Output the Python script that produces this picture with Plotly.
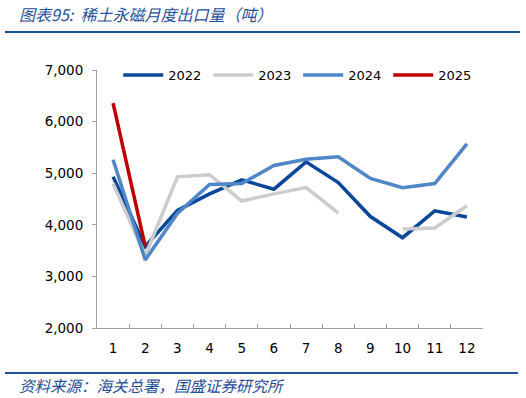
import plotly.graph_objects as go

months = ["1", "2", "3", "4", "5", "6", "7", "8", "9", "10", "11", "12"]
y2022 = [4930, 3580, 4280, 4600, 4870, 4690, 5220, 4820, 4160, 3750, 4270, 4150]
y2023 = [4800, 3400, 4930, 4970, 4460, 4600, 4720, 4230, None, 3920, 3940, 4370]
y2024 = [5260, 3320, 4220, 4780, 4800, 5150, 5270, 5320, 4900, 4720, 4800, 5570]
y2025 = [6360, 3580]
names = ["2022", "2023", "2024", "2025"]
colors = ["#08479A", "#CCCCCC", "#4F86C8", "#C00000"]
yticks = [2000, 3000, 4000, 5000, 6000, 7000]
ytick_text = ["2,000", "3,000", "4,000", "5,000", "6,000", "7,000"]

fig = go.Figure()
for name, ys, col in zip(names, [y2022, y2023, y2024, y2025], colors):
    fig.add_trace(go.Scatter(
        x=months[:len(ys)], y=ys, name=name, mode="lines",
        line=dict(color=col, width=3.5), connectgaps=False,
    ))

tickfont = dict(family="DejaVu Sans", size=13.5, color="#000000")
fig.update_layout(
    width=526, height=398,
    margin=dict(l=97, r=43, t=70, b=70),
    paper_bgcolor="white", plot_bgcolor="white",
    showlegend=True,
    legend=dict(orientation="h", x=0.055, y=0.98,
                xanchor="left", yanchor="middle",
                font=dict(family="DejaVu Sans", size=13, color="#000000"),
                itemwidth=40, entrywidth=35, bgcolor="rgba(0,0,0,0)"),
    xaxis=dict(type="category", categoryorder="array", categoryarray=months,
               range=[-0.5, 11.5],
               showline=True, linecolor="#A0A0A0", linewidth=1,
               ticks="inside", ticklen=4, tickcolor="#A0A0A0", tickson="boundaries",
               showgrid=False, zeroline=False, tickfont=tickfont,
               ticklabelstandoff=8),
    yaxis=dict(range=[2000, 7000], tickvals=yticks, ticktext=ytick_text,
               showline=True, linecolor="#A0A0A0", linewidth=1,
               ticks="outside", ticklen=4, tickcolor="#A0A0A0",
               showgrid=False, zeroline=False, tickfont=tickfont,
               ticklabelstandoff=6),
)

title_color = "#1F4E9A"
fig.add_annotation(text="<i>图表95:  稀土永磁月度出口量（吨）</i>", xref="paper", yref="paper",
                   x=-97/386 + 17/386, y=1 + (70-14)/258, xanchor="left", yanchor="middle",
                   showarrow=False,
                   font=dict(family="Noto Sans CJK SC", size=16, color=title_color))
fig.add_annotation(text="<i>资料来源：海关总署，国盛证券研究所</i>", xref="paper", yref="paper",
                   x=-97/386 + 17/386, y=-(385-328)/258, xanchor="left", yanchor="middle",
                   showarrow=False,
                   font=dict(family="Noto Sans CJK SC", size=15.5, color=title_color))
fig.add_shape(type="line", xref="paper", yref="paper",
              x0=-92/386, x1=(520-97)/386, y0=1 + (70-32)/258, y1=1 + (70-32)/258,
              line=dict(color=title_color, width=2))
fig.add_shape(type="line", xref="paper", yref="paper",
              x0=-92/386, x1=(518-97)/386, y0=-(373-328)/258, y1=-(373-328)/258,
              line=dict(color=title_color, width=2))

fig.write_html("out.html", config={"displayModeBar": False},
               post_script="document.body.style.margin='0';")
